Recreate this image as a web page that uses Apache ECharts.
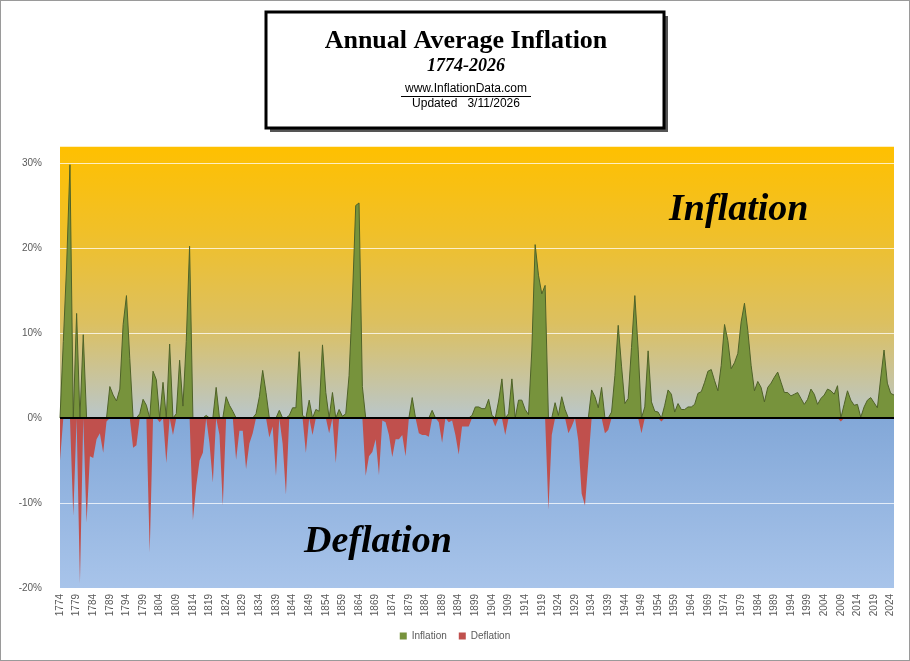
<!DOCTYPE html>
<html><head><meta charset="utf-8">
<script src="https://cdn.jsdelivr.net/npm/echarts@6/dist/echarts.min.js"></script>
<style>html,body{margin:0;padding:0;background:#fff}#c{width:910px;height:661px;box-sizing:border-box;border:1px solid #9a9a9a}</style>
</head><body><div id="c"></div>
<script>
const startYear = 1774;
const rates = [
-5,9,18,29.8,-11.5,12.3,-19.4,9.8,-12.3,-4.5,
-4.7,-2.5,-1.8,-4.1,-0.4,3.7,2.7,2.0,3.4,11,
14.4,7,-3.5,-3.2,0.5,2.2,1.5,-15.8,5.5,4.5,
-0.5,4.2,-5.3,8.7,-2,0.5,6.8,1.4,9,20.2,
-12,-8,-5,-4.1,0.3,-3,-7.6,3.6,-2,-10.3,
2.5,1.5,0.8,-4.9,-1.5,-1.5,-6,-3,-1.8,0.5,
2.5,5.6,3,-2.3,-1,-6.8,0.9,-3,-9,0.3,
1.2,1.2,7.8,0.3,-4.1,2.1,-2,1,0.8,8.6,
3,-1.8,3,-5.3,1,0.2,0.5,5,14,25,
25.3,3.7,-6.8,-4.5,-4,-2.5,-6.7,-0.3,-0.5,-2,
-4.6,-2.5,-2.5,-2,-4.5,0,2.4,0,-1.8,-2,
-2,-2.2,0.9,0,-0.5,-2.9,0,-0.5,-0.3,-2,
-4.3,-1,-1,-1,0.3,1.3,1.3,1.1,1.1,2.2,
0.3,-1,2,4.6,-2,0.5,4.6,0,2.1,2.1,
1,0.4,8,20.4,16.8,14.6,15.6,-10.8,-2,1.8,
0.3,2.5,1,-1.8,-1,0,-2.7,-8.9,-10.3,-5.2,
3.3,2.5,1.2,3.6,-1.8,-1.4,0.7,5,10.9,6.1,
1.7,2.3,8.3,14.4,8.1,-1.8,1.3,7.9,1.9,0.8,
0.7,-0.4,1.5,3.3,2.8,0.7,1.7,1.0,1.0,1.3,
1.3,1.6,2.9,3.1,4.2,5.5,5.7,4.4,3.2,6.2,
11.0,9.1,5.8,6.5,7.6,11.3,13.5,10.3,6.2,3.2,
4.3,3.6,1.9,3.6,4.1,4.8,5.4,4.2,3.0,3.0,
2.6,2.8,3.0,2.3,1.6,2.2,3.4,2.8,1.6,2.3,
2.7,3.4,3.2,2.8,3.8,-0.4,1.6,3.2,2.1,1.5,
1.6,0.1,1.3,2.1,2.4,1.8,1.2,4.7,8.0,4.1,
2.9,2.7
];
const years = rates.map((_, i) => String(startYear + i));
const inflation = rates.map(v => v > 0 ? v : 0);
const deflation = rates.map(v => v < 0 ? v : 0);
const yTicks = [-20,-10,0,10,20,30];

const chart = echarts.init(document.getElementById('c'));
chart.setOption({
  animation:false,
  grid:{left:59,right:15,top:145,bottom:72,show:true,borderWidth:0,
    backgroundColor:{type:'linear',x:0,y:0,x2:0,y2:1,colorStops:[
      {offset:0,color:'#FFC000'},{offset:0.2,color:'#F0C02A'},{offset:0.4,color:'#DCC060'},
      {offset:0.6,color:'#BCC6C2'},{offset:0.615,color:'#BAC5C4'},{offset:0.617,color:'#83A8D8'},
      {offset:1,color:'#A8C4EA'}]}},
  xAxis:{type:'category',data:years,boundaryGap:false,
    axisLine:{show:false},axisTick:{show:false},
    axisLabel:{interval:4,rotate:90,fontSize:10,color:'#595959',fontFamily:'Liberation Sans',margin:6}},
  yAxis:{type:'value',min:-20,max:32,interval:10,
    axisLabel:{formatter:v=>yTicks.includes(v)?v+'%':'',showMaxLabel:false,fontSize:10,color:'#595959',fontFamily:'Liberation Sans',margin:18},
    splitLine:{lineStyle:{color:'rgba(255,255,255,0.75)',width:1}},
    axisLine:{show:false},axisTick:{show:false}},
  legend:{bottom:14,left:'center',itemWidth:7,itemHeight:7,itemGap:12,
    textStyle:{fontSize:10,color:'#595959',fontFamily:'Liberation Sans'},
    data:[{name:'Inflation',icon:'rect'},{name:'Deflation',icon:'rect'}]},
  series:[
    {name:'Inflation',type:'line',data:inflation,symbol:'none',
      lineStyle:{color:'#4F6228',width:1},itemStyle:{color:'#77933C'},
      areaStyle:{color:'#77933C',opacity:1},z:2},
    {name:'Deflation',type:'line',data:deflation,symbol:'none',
      lineStyle:{width:0},itemStyle:{color:'#C0504D'},
      areaStyle:{color:'#C0504D',opacity:1},z:2,
      markLine:{silent:true,symbol:'none',label:{show:false},
        lineStyle:{color:'#000',width:2,type:'solid'},data:[{yAxis:0}]}}
  ],
  graphic:[
    {type:'rect',x:269,y:15,shape:{width:398,height:116},style:{fill:'#555'},z:10},
    {type:'rect',x:265,y:11,shape:{width:398,height:116},style:{fill:'#fff',stroke:'#000',lineWidth:3},z:11},
    {type:'text',x:465,y:27,style:{text:'Annual Average Inflation',textAlign:'center',font:'bold 26px "Liberation Serif"',fill:'#000'},z:12},
    {type:'text',x:465,y:56,style:{text:'1774-2026',textAlign:'center',font:'italic bold 18px "Liberation Serif"',fill:'#000'},z:12},
    {type:'text',x:465,y:82,style:{text:'www.InflationData.com',textAlign:'center',font:'12px "Liberation Sans"',fill:'#000'},z:12},
    {type:'rect',x:400,y:95,shape:{width:130,height:1},style:{fill:'#000'},z:12},
    {type:'text',x:465,y:97,style:{text:'Updated   3/11/2026',textAlign:'center',font:'12px "Liberation Sans"',fill:'#000'},z:12},
    {type:'text',x:668,y:190,style:{text:'Inflation',font:'italic bold 38px "Liberation Serif"',fill:'#000'},z:12},
    {type:'text',x:303,y:522,style:{text:'Deflation',font:'italic bold 38px "Liberation Serif"',fill:'#000'},z:12}
  ]
});
</script></body></html>
